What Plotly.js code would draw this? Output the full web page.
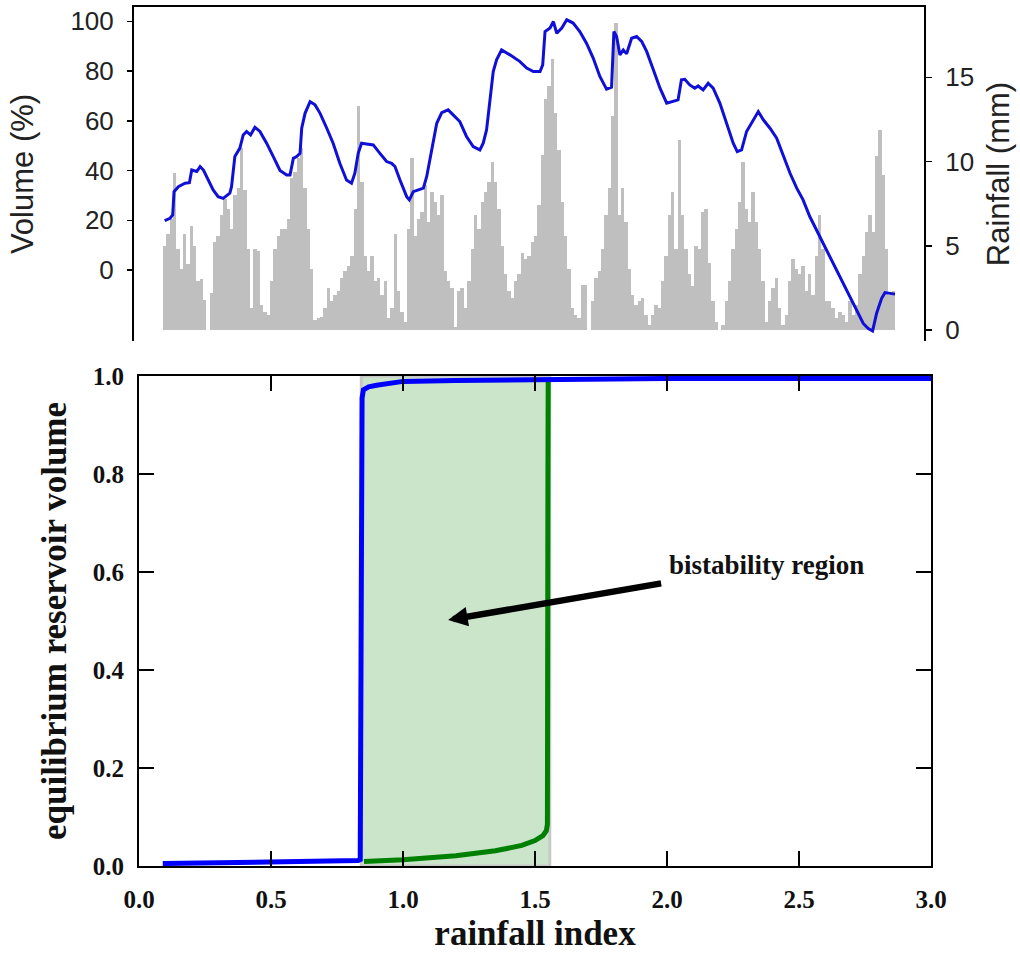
<!DOCTYPE html>
<html>
<head>
<meta charset="utf-8">
<script src="https://cdn.plot.ly/plotly-3.0.1.min.js"></script>
<style>
html,body{margin:0;padding:0;background:#fff;}
#chart{width:1020px;height:953px;}
</style>
</head>
<body>
<div id="chart"></div>
<script>
// ---------- Top panel data ----------
// Rainfall (mm), one bar per time step
const rainfall = [
 5.0,5.7,6.6,9.3,4.8,3.6,5.7,3.9,6.2,5.0,2.9,3.0,1.8,0,2.2,5.2,5.6,6.8,7.8,7.2,
 6.0,8.0,8.4,10.8,8.3,4.8,1.3,4.8,4.7,1.5,1.1,0.9,2.9,4.8,5.6,6.0,6.0,6.6,9.0,9.4,
 10.2,10.8,8.4,6.0,3.6,0.6,0.7,0.8,1.3,2.5,1.7,2.1,2.3,3.1,3.5,3.8,
 4.4,7.2,13.3,8.8,4.4,3.5,4.4,2.9,3.1,2.1,2.9,0.7,1.3,5.7,2.3,1.1,0.5,6.0,10.2,5.6,
 6.6,7.0,8.6,6.4,8.2,7.6,6.8,8.0,3.5,2.9,2.5,0.2,2.3,2.5,1.3,2.9,4.8,6.8,6.0,7.6,
 8.2,8.8,10.0,8.8,7.2,5.0,3.3,2.3,1.9,2.9,3.3,4.6,4.2,4.4,5.2,
 5.6,7.4,10.4,13.7,14.5,16.1,12.9,10.7,7.6,5.6,3.6,1.3,0.9,0.7,2.7,2.7,0,1.7,3.1,3.5,
 4.8,6.8,8.4,12.7,18.2,6.8,8.4,6.4,3.6,2.1,1.5,1.7,1.9,0.9,0.3,0.9,1.5,1.3,2.9,4.4,
 6.8,8.2,4.8,11.3,6.8,4.8,3.3,2.6,5.0,4.8,7.0,7.2,4.0,1.7,0.5,0,
 0.3,1.7,2.9,4.8,6.0,7.6,10.0,7.2,6.4,8.2,6.4,4.8,2.9,0.5,1.7,2.5,3.1,1.3,0.3,0.9,
 2.9,4.2,3.6,3.3,3.8,2.3,3.3,2.1,4.4,6.8,4.8,1.7,1.7,1.3,0.7,1.1,0.9,0.5,1.7,0.9,
 1.5,3.3,4.4,5.8,6.8,5.8,10.3,11.9,9.2,4.8,2.1,2.3
];
const timeStep = rainfall.map((_, i) => i);

// Reservoir volume (%) sampled along the same time axis
const volumeTime = [
 0,1.6,2.4,2.8,4.1,6.1,7.4,8.1,9.6,10.6,11.6,13.1,14.5,16.0,17.5,19.5,20.0,21.0,22.5,23.5,
 24.5,25.7,27.0,28.5,30.5,32.5,34.5,36.5,37.5,38.5,39.5,40.5,41.0,42.0,43.5,45.0,46.5,48.5,50.4,52.4,
 54.4,55.9,56.9,57.9,58.9,60.4,62.4,64.4,66.4,67.9,68.9,70.4,72.4,73.2,74.4,75.9,77.4,78.4,79.9,81.4,
 82.9,84.8,86.3,88.3,90.3,92.3,94.3,95.3,96.3,97.5,98.3,99.3,100.8,103.3,106.3,108.3,110.3,112.3,113.1,113.8,
 115.3,116.3,117.3,118.8,120.3,122.2,124.2,126.2,128.2,130.2,132.2,133.7,134.4,135.2,136.2,137.2,138.2,139.7,141.2,142.7,
 144.2,146.2,148.2,150.2,152.1,153.6,154.6,155.6,157.1,158.6,159.6,161.1,162.6,164.1,166.1,168.1,170.1,171.3,172.6,174.1,
 176.1,177.6,179.1,181.1,183.1,185.1,187.1,189.1,191.0,193.0,195.0,197.0,199.0,201.0,203.0,205.0,207.0,209.0,210.5,211.8,
 213.0,214.5,215.5,217.0,218.5
];
const volume = [
 19.9,20.8,22.1,31.5,33.5,34.9,35.1,40.2,39.6,41.6,40.2,36.2,32.2,29.5,28.8,30.9,33.5,45.6,49.0,54.3,
 55.7,54.3,57.4,55.7,51.0,45.6,40.0,38.2,38.2,44.9,45.6,46.9,57.0,63.0,67.7,66.4,63.0,57.0,51.0,42.9,
 36.2,34.9,38.9,46.9,51.0,50.7,50.3,46.9,43.6,42.9,41.6,36.2,29.5,28.2,31.5,32.2,32.9,37.6,48.3,59.0,
 63.3,64.4,62.4,59.7,53.7,49.6,48.3,51.0,56.3,71.1,79.8,84.5,88.5,86.5,83.8,81.2,79.8,79.8,82.5,95.9,
 97.3,99.9,95.2,97.3,100.6,99.3,95.9,91.2,85.2,77.8,72.7,73.5,95.9,93.9,86.5,88.5,86.9,93.2,93.9,91.9,
 87.9,80.5,73.1,67.1,67.7,68.4,76.5,76.7,74.4,73.1,74.0,72.4,75.1,73.1,67.1,59.0,51.0,47.6,48.3,55.7,
 60.4,63.7,60.4,57.0,53.0,45.6,38.9,32.9,28.2,21.5,16.1,10.7,5.4,0,-5.4,-10.7,-16.1,-21.5,-23.5,-24.5,
 -17.4,-11.4,-9.1,-9.4,-9.7
];
const volumeTicks = [0, 20, 40, 60, 80, 100];
const rainfallTicks = [0, 5, 10, 15];

// ---------- Bottom panel data ----------
const upperIndex = [0.09,0.3,0.5,0.7,0.83,0.838,0.840,0.842,0.845,0.85,0.87,0.9,0.95,1.0,1.2,1.5,2.0,2.5,3.0];
const upperVolume = [0.005,0.006,0.007,0.009,0.011,0.013,0.3,0.7,0.955,0.972,0.978,0.981,0.985,0.989,0.991,0.993,0.995,0.995,0.995];
const lowerIndex = [0.852,1.0,1.2,1.35,1.45,1.5,1.53,1.543,1.547,1.548,1.549,1.55];
const lowerVolume = [0.009,0.013,0.021,0.031,0.042,0.052,0.062,0.072,0.085,0.2,0.8,0.994];
const bistableRange = [0.842, 1.556];
const indexTicks = [0, 0.5, 1.0, 1.5, 2.0, 2.5, 3.0];
const eqTicks = [0, 0.2, 0.4, 0.6, 0.8, 1.0];
const annotationLabel = 'bistability region';
const arrowHead = [1.171, 0.502];
const labelPos = [2.378, 0.614];

const sans = 'Liberation Sans, Arial, sans-serif';
const serif = 'Liberation Serif, Times New Roman, serif';

const traces = [
  {
    type: 'bar', x: timeStep, y: rainfall, xaxis: 'x', yaxis: 'y',
    marker: {color: 'rgb(191,191,191)', line: {width: 0}},
    width: 1, hoverinfo: 'skip', name: 'Rainfall'
  },
  {
    type: 'scatter', mode: 'lines', x: volumeTime, y: volume, xaxis: 'x', yaxis: 'y2',
    line: {color: 'rgb(15,15,215)', width: 3}, hoverinfo: 'skip', name: 'Volume'
  },
  {
    type: 'scatter', mode: 'lines', x: lowerIndex, y: lowerVolume, xaxis: 'x2', yaxis: 'y3',
    line: {color: 'rgb(0,128,0)', width: 5}, hoverinfo: 'skip', name: 'lower branch'
  },
  {
    type: 'scatter', mode: 'lines', x: upperIndex, y: upperVolume, xaxis: 'x2', yaxis: 'y3',
    line: {color: 'rgb(0,0,255)', width: 5}, hoverinfo: 'skip', name: 'upper branch'
  }
];

const nBars = rainfall.length;
const padUnits = 29 * nBars / 732;

const layout = {
  width: 1020, height: 953,
  margin: {l: 134, r: 89, t: 7, b: 87},
  paper_bgcolor: '#fff', plot_bgcolor: 'rgba(0,0,0,0)',
  showlegend: false, bargap: 0, hovermode: false,
  xaxis: {
    domain: [0, 790/797], anchor: 'y', side: 'top',
    range: [-0.5 - padUnits, nBars - 0.5 + padUnits],
    showline: true, linecolor: '#000', linewidth: 2,
    ticks: '', showticklabels: false, showgrid: false, zeroline: false
  },
  yaxis: {
    domain: [1 - 334/859, 1], anchor: 'x', side: 'right',
    range: [-0.65, 19.17], tickvals: rainfallTicks,
    ticks: 'outside', ticklen: 6, tickwidth: 1.5, tickcolor: '#000',
    showline: true, linecolor: '#000', linewidth: 2,
    showgrid: false, zeroline: false,
    tickfont: {family: sans, size: 26, color: '#222'},
    ticklabelstandoff: 8,
    title: {text: 'Rainfall (mm)', font: {family: sans, size: 31, color: '#222'}, standoff: 14}
  },
  yaxis2: {
    overlaying: 'y', anchor: 'x', side: 'left',
    range: [-28.55, 105.75], tickvals: volumeTicks,
    ticks: 'outside', ticklen: 5, tickwidth: 1.5, tickcolor: '#000',
    showline: true, linecolor: '#000', linewidth: 2,
    showgrid: false, zeroline: false,
    tickfont: {family: sans, size: 26, color: '#222'},
    ticklabelstandoff: 8,
    title: {text: 'Volume (%)', font: {family: sans, size: 31, color: '#222'}, standoff: 28}
  },
  xaxis2: {
    domain: [5/797, 1], anchor: 'y3',
    range: [0, 3], tickvals: indexTicks, tickformat: '.1f',
    ticks: 'inside', ticklen: 15, tickwidth: 1.5, tickcolor: '#000',
    showline: true, linecolor: '#000', linewidth: 2, mirror: 'ticks',
    showgrid: false, zeroline: false,
    tickfont: {family: serif, size: 25, color: '#111', weight: 'bold'},
    ticklabelstandoff: 10,
    title: {text: 'rainfall index', font: {family: serif, size: 35, color: '#111', weight: 'bold'}, standoff: 14}
  },
  yaxis3: {
    domain: [0, 490/859], anchor: 'x2',
    range: [0, 1], tickvals: eqTicks, tickformat: '.1f',
    ticks: 'inside', ticklen: 15, tickwidth: 1.5, tickcolor: '#000',
    showline: true, linecolor: '#000', linewidth: 2, mirror: 'ticks',
    showgrid: false, zeroline: false,
    tickfont: {family: serif, size: 25, color: '#111', weight: 'bold'},
    ticklabelstandoff: 8,
    title: {text: 'equilibrium reservoir volume', font: {family: serif, size: 35, color: '#111', weight: 'bold'}, standoff: 16}
  },
  shapes: [{
    type: 'rect', xref: 'x2', yref: 'y3',
    x0: bistableRange[0], x1: bistableRange[1], y0: 0, y1: 1,
    fillcolor: 'rgb(203,229,203)', line: {color: 'rgb(200,200,200)', width: 3}, layer: 'below'
  }],
  annotations: [{
    xref: 'x2', yref: 'y3', axref: 'x2', ayref: 'y3',
    x: arrowHead[0], y: arrowHead[1], ax: labelPos[0], ay: labelPos[1],
    text: annotationLabel, showarrow: true,
    arrowhead: 2, arrowsize: 0.6, arrowwidth: 6.5, arrowcolor: '#000', startstandoff: 10,
    font: {family: serif, size: 27, color: '#111', weight: 'bold'}
  }]
};

Plotly.newPlot('chart', traces, layout, {displayModeBar: false, staticPlot: true});
</script>
</body>
</html>
